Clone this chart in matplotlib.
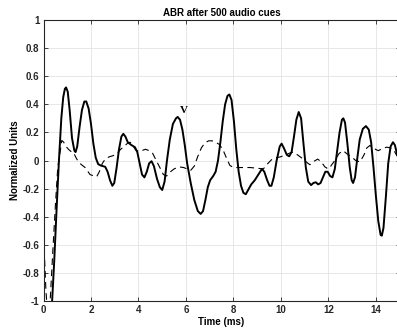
import matplotlib
matplotlib.use("Agg")
import matplotlib.pyplot as plt

# ABR waveform after 500 cues (solid) and comparison trace (dashed)
t_solid = [0.30, 0.45, 0.55, 0.65, 0.75, 0.83, 0.90, 0.95, 1.02, 1.10, 1.20, 1.30, 1.35, 1.42,
           1.52, 1.62, 1.72, 1.80, 1.90, 2.00, 2.10, 2.20, 2.30, 2.40, 2.50, 2.60, 2.70, 2.80,
           2.90, 2.98, 3.08, 3.18, 3.28, 3.36, 3.45, 3.55, 3.70, 3.85, 3.95, 4.05, 4.15, 4.25,
           4.35, 4.45, 4.55, 4.65, 4.78, 4.90, 5.00, 5.10, 5.20, 5.32, 5.45, 5.58, 5.65, 5.75,
           5.85, 5.95, 6.05, 6.20, 6.35, 6.50, 6.62, 6.72, 6.82, 6.92, 7.02, 7.15, 7.25, 7.35,
           7.45, 7.55, 7.65, 7.75, 7.83, 7.92, 8.02, 8.12, 8.22, 8.32, 8.42, 8.52, 8.62, 8.75,
           8.90, 9.05, 9.20, 9.30, 9.42, 9.52, 9.60, 9.70, 9.82, 9.95, 10.03, 10.12, 10.25, 10.35,
           10.45, 10.55, 10.65, 10.75, 10.85, 10.95, 11.05, 11.15, 11.27, 11.37, 11.47, 11.57,
           11.67, 11.77, 11.87, 11.97, 12.07, 12.17, 12.27, 12.37, 12.47, 12.57, 12.63, 12.70,
           12.80, 12.90, 12.98, 13.04, 13.12, 13.22, 13.32, 13.45, 13.58, 13.70, 13.80, 13.90,
           14.00, 14.10, 14.20, 14.25, 14.32, 14.42, 14.52, 14.62, 14.72, 14.80, 14.90]
v_solid = [-1.20, -0.72, -0.35, 0.00, 0.30, 0.45, 0.51, 0.52, 0.49, 0.36, 0.16, 0.07, 0.06, 0.10,
           0.24, 0.36, 0.42, 0.42, 0.37, 0.26, 0.12, 0.02, -0.025, -0.035, -0.04, -0.045, -0.08, -0.14,
           -0.18, -0.16, -0.05, 0.08, 0.17, 0.19, 0.17, 0.13, 0.11, 0.095, 0.06, -0.02, -0.10, -0.12,
           -0.08, -0.02, -0.005, -0.04, -0.13, -0.19, -0.21, -0.15, 0.00, 0.15, 0.26, 0.30, 0.31, 0.29,
           0.22, 0.11, -0.02, -0.16, -0.28, -0.36, -0.38, -0.36, -0.28, -0.19, -0.14, -0.11, -0.08, 0.00,
           0.13, 0.28, 0.40, 0.46, 0.47, 0.43, 0.28, 0.08, -0.08, -0.18, -0.23, -0.24, -0.21, -0.17,
           -0.14, -0.10, -0.06, -0.08, -0.14, -0.18, -0.18, -0.12, 0.00, 0.10, 0.12, 0.09, 0.04, 0.03,
           0.06, 0.17, 0.29, 0.345, 0.30, 0.12, -0.05, -0.15, -0.175, -0.16, -0.155, -0.17,
           -0.16, -0.12, -0.08, -0.08, -0.11, -0.12, -0.06, 0.07, 0.20, 0.29, 0.30, 0.27,
           0.12, -0.05, -0.14, -0.16, -0.12, 0.02, 0.15, 0.225, 0.245, 0.22, 0.13, -0.05,
           -0.25, -0.43, -0.53, -0.535, -0.48, -0.26, -0.02, 0.10, 0.13, 0.11, 0.04]

t_dash = [0.00, 0.05, 0.10, 0.14, 0.20, 0.28, 0.40, 0.50, 0.60, 0.69, 0.77, 0.85, 0.95, 1.05,
          1.15, 1.25, 1.37, 1.47, 1.60, 1.75, 1.96, 2.12, 2.24, 2.35, 2.48, 2.60, 2.75, 2.94,
          3.10, 3.25, 3.40, 3.55, 3.65, 3.75, 3.88, 4.00, 4.13, 4.30, 4.45, 4.60, 4.75, 4.90,
          5.05, 5.19, 5.35, 5.50, 5.70, 5.90, 6.05, 6.20, 6.35, 6.50, 6.65, 6.80, 6.95, 7.10,
          7.25, 7.40, 7.55, 7.70, 7.85, 8.00, 8.27, 8.50, 8.70, 9.00, 9.26, 9.40, 9.60, 9.80,
          9.96, 10.20, 10.40, 10.52, 10.70, 10.94, 11.10, 11.22, 11.40, 11.55, 11.70, 11.85,
          11.99, 12.10, 12.27, 12.45, 12.62, 12.80, 12.98, 13.15, 13.33, 13.50, 13.62, 13.75,
          13.92, 14.10, 14.28, 14.45, 14.60, 14.73, 14.90]
v_dash = [-0.47, -0.72, -0.92, -1.02, -1.08, -1.00, -0.62, -0.32, -0.05, 0.05, 0.143, 0.13, 0.10, 0.08,
          0.065, 0.06, 0.02, -0.01, -0.03, -0.05, -0.10, -0.11, -0.115, -0.08, -0.02, 0.01, 0.025, 0.035,
          0.05, 0.08, 0.10, 0.125, 0.13, 0.11, 0.075, 0.065, 0.07, 0.08, 0.07, 0.05, 0.00, -0.05,
          -0.10, -0.11, -0.08, -0.06, -0.045, -0.05, -0.06, -0.07, -0.04, 0.03, 0.09, 0.125, 0.14, 0.14,
          0.13, 0.115, 0.08, 0.02, -0.035, -0.05, -0.05, -0.05, -0.05, -0.055, -0.06, -0.03, 0.005, 0.02,
          0.025, 0.04, 0.055, 0.06, 0.04, 0.01, -0.015, -0.03, -0.005, 0.01, -0.01, -0.045,
          -0.06, -0.04, 0.00, 0.05, 0.07, 0.045, 0.025, 0.00, -0.01, 0.04, 0.09, 0.107,
          0.085, 0.07, 0.085, 0.095, 0.09, 0.08, 0.03]

x_ticks = [0, 2, 4, 6, 8, 10, 12, 14]
y_ticks = [-1, -0.8, -0.6, -0.4, -0.2, 0, 0.2, 0.4, 0.6, 0.8, 1]
y_labels = ["-1", "-0.8", "-0.6", "-0.4", "-0.2", "0", "0.2", "0.4", "0.6", "0.8", "1"]

plt.rcParams["font.family"] = ["Liberation Sans", "DejaVu Sans"]
plt.rcParams["font.weight"] = "bold"

fig = plt.figure(figsize=(3.97, 3.31), dpi=100)
ax = fig.add_axes([0.1096, 0.0906, 0.897, 0.849])

ax.plot(t_dash, v_dash, color="black", lw=0.8, ls=(0, (6, 4)))
ax.plot(t_solid, v_solid, color="black", lw=1.4)
ax.text(5.93, 0.355, "V", family="Liberation Serif", fontweight="bold", fontsize=8,
        ha="center", va="center")

ax.set_xlim(0, 15)
ax.set_ylim(-1, 1)
ax.set_xticks(x_ticks)
ax.set_yticks(y_ticks)
ax.set_yticklabels(y_labels)
ax.grid(True, color="#e3e3e3", lw=0.6)
ax.set_axisbelow(True)
ax.tick_params(direction="in", length=3, width=0.6, top=True, right=True,
               labelsize=7, colors="#262626", pad=3)
for lbl in ax.get_xticklabels() + ax.get_yticklabels():
    lbl.set_fontweight("bold")
for s in ax.spines.values():
    s.set_color("#262626")
    s.set_linewidth(0.8)

ax.set_title("ABR after 500 audio cues", fontsize=7, fontweight="bold", pad=3)
ax.set_xlabel("Time (ms)", fontsize=7, fontweight="bold", labelpad=1)
ax.set_ylabel("Normalized Units", fontsize=7, fontweight="bold", labelpad=2)

fig.savefig("out.png", dpi=100)
